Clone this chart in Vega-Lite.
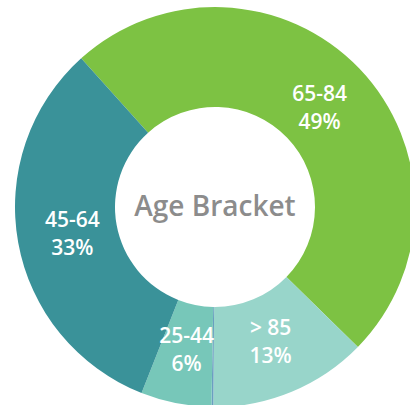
{
  "$schema": "https://vega.github.io/schema/vega-lite/v6.json",
  "width": 430,
  "height": 414,
  "autosize": "none",
  "padding": 0,
  "background": "white",
  "config": {"view": {"stroke": null}},
  "datasets": {
    "ages": [
      {"bracket": "65-84", "share": 49.0, "label": "65-84\n49%", "rank": 1},
      {"bracket": "> 85", "share": 12.8, "label": "> 85\n13%", "rank": 2},
      {"bracket": "< 25", "share": 0.15, "label": "", "rank": 3},
      {"bracket": "25-44", "share": 5.7, "label": "25-44\n6%", "rank": 4},
      {"bracket": "45-64", "share": 32.35, "label": "45-64\n33%", "rank": 5}
    ],
    "center": [{"title": "Age Bracket"}]
  },
  "layer": [
    {
      "data": {"name": "ages"},
      "mark": {"type": "arc", "radius": 200, "radius2": 100},
      "encoding": {
        "theta": {"field": "share", "type": "quantitative", "stack": true, "scale": {"range": [-0.733, 5.5502]}},
        "order": {"field": "rank", "type": "quantitative"},
        "color": {
          "field": "bracket",
          "type": "nominal",
          "legend": null,
          "scale": {
            "domain": ["65-84", "> 85", "< 25", "25-44", "45-64"],
            "range": ["#7dc243", "#98d5ca", "#6a9fc0", "#77c7b9", "#3a9299"]
          }
        }
      }
    },
    {
      "data": {"name": "ages"},
      "mark": {"type": "text", "radius": 145, "lineBreak": "\n", "lineHeight": 28, "fontSize": 21, "font": "Open Sans", "fontWeight": 600, "color": "white", "align": "center", "baseline": "middle", "dy": -12},
      "encoding": {
        "theta": {"field": "share", "type": "quantitative", "stack": true, "scale": {"range": [-0.733, 5.5502]}},
        "order": {"field": "rank", "type": "quantitative"},
        "text": {"field": "label", "type": "nominal"}
      }
    },
    {
      "data": {"name": "center"},
      "mark": {"type": "text", "fontSize": 28, "font": "Open Sans", "fontWeight": 600, "color": "#8c8c8c", "align": "center", "baseline": "middle", "dy": 1},
      "encoding": {
        "text": {"field": "title", "type": "nominal"}
      }
    }
  ]
}
